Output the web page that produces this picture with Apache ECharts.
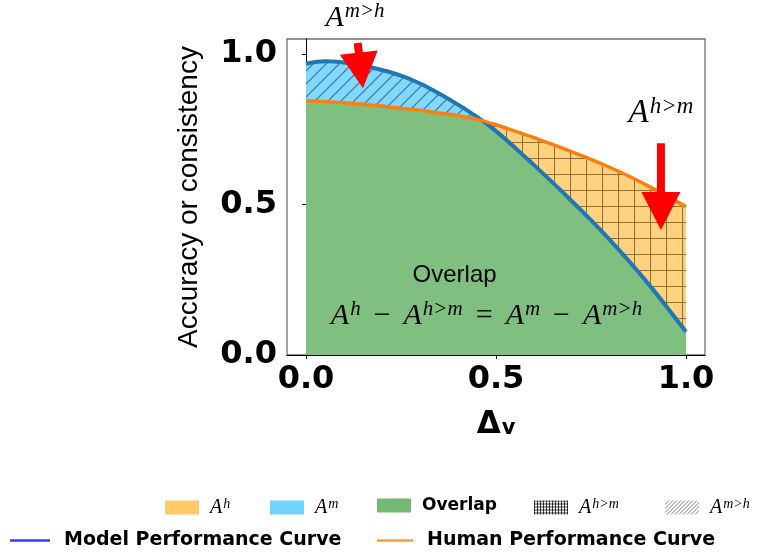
<!DOCTYPE html>
<html>
<head>
<meta charset="utf-8">
<script src="https://cdn.jsdelivr.net/npm/echarts@6/dist/echarts.min.js"></script>
<style>
  html, body { margin: 0; padding: 0; background: #ffffff; }
  #chart { width: 757px; height: 556px; }
</style>
</head>
<body>
<div id="chart"></div>
<script>
// Visual-feature threshold Δv on the x axis
const deltaV = [0.00, 0.05, 0.10, 0.15, 0.20, 0.25, 0.30, 0.35, 0.40, 0.45, 0.50,
                0.55, 0.60, 0.65, 0.70, 0.75, 0.80, 0.85, 0.90, 0.95, 1.00];
// Model accuracy / consistency curve
const modelCurve = [0.968, 0.976, 0.972, 0.962, 0.947, 0.928, 0.902, 0.869, 0.832, 0.791, 0.744,
                    0.689, 0.631, 0.572, 0.511, 0.448, 0.382, 0.312, 0.238, 0.159, 0.077];
// Human accuracy / consistency curve
const humanCurve = [0.845, 0.842, 0.838, 0.833, 0.827, 0.820, 0.813, 0.804, 0.795, 0.783, 0.765,
                    0.744, 0.722, 0.699, 0.675, 0.650, 0.623, 0.594, 0.562, 0.528, 0.493];
// Tick values on both axes
const xTickValues = [0, 0.5, 1.0];
const yTickValues = [0, 0.5, 1.0];

// Point lists built from the curves
const modelLine = deltaV.map((x, i) => [x, modelCurve[i]]);
const humanLine = deltaV.map((x, i) => [x, humanCurve[i]]);
const overlapLine = deltaV.map((x, i) => [x, Math.min(modelCurve[i], humanCurve[i])]);

// Hatch tiles painted on small canvases and used as repeating fills
function hatchTile(size, bg, stroke, lw, kind, ox, oy) {
  const c = document.createElement('canvas');
  c.width = size; c.height = size;
  const g = c.getContext('2d');
  if (bg) { g.fillStyle = bg; g.fillRect(0, 0, size, size); }
  g.strokeStyle = stroke;
  g.lineWidth = lw;
  g.beginPath();
  if (kind === 'grid') {
    g.moveTo(0.5, 0); g.lineTo(0.5, size);
    g.moveTo(0, 0.5); g.lineTo(size, 0.5);
  } else {
    g.moveTo(0, size); g.lineTo(size, 0);
    g.moveTo(-size, size); g.lineTo(size, -size);
    g.moveTo(0, 2 * size); g.lineTo(2 * size, 0);
  }
  g.stroke();
  return { image: c, repeat: 'repeat', x: ox || 0, y: oy || 0 };
}

const gridHatch = hatchTile(16, null, 'rgba(70,45,10,0.6)', 1.1, 'grid', 10, 14);
const diagHatch = hatchTile(13, null, 'rgba(20,40,55,0.6)', 1.1, 'diag');
const gridHatchSmall = hatchTile(3, '#ffffff', 'rgba(0,0,0,0.75)', 1, 'grid');
const diagHatchSmall = hatchTile(4, '#ffffff', 'rgba(0,0,0,0.55)', 0.9, 'diag');

const serif = 'Liberation Serif';
const sans = 'Liberation Sans';
const bold = 'DejaVu Sans';

function mathRich(big, small, lead, gap) {
  const sp = gap === undefined ? big * 0.3 : gap;
  return {
    A: { fontFamily: serif, fontStyle: 'italic', fontSize: big, lineHeight: big * 1.05,
         verticalAlign: 'bottom', color: '#000', padding: [0, 0, 0, lead || 0] },
    B: { fontFamily: serif, fontStyle: 'italic', fontSize: big, lineHeight: big * 1.05,
         verticalAlign: 'bottom', color: '#000' },
    s: { fontFamily: serif, fontStyle: 'italic', fontSize: small, lineHeight: small,
         verticalAlign: 'top', color: '#000', padding: [0, 0, 0, 1] },
    o: { fontFamily: serif, fontSize: big, lineHeight: big * 1.05, verticalAlign: 'bottom',
         color: '#000', padding: [0, sp, 0, sp] },
    b: { fontFamily: bold, fontWeight: 'bold', fontSize: 17, color: '#000', padding: [0, 0, 0, 6] },
    c: { fontFamily: bold, fontWeight: 'bold', fontSize: 19, color: '#000', padding: [0, 0, 0, 9] }
  };
}

const legendText = {
  'A^h': '{A|A}{s|h}',
  'A^m': '{A|A}{s|m}',
  'Overlap': '{b|Overlap}',
  'A^{h>m}': '{A|A}{s|h>m}',
  'A^{m>h}': '{A|A}{s|m>h}',
  'Model Performance Curve': '{c|Model Performance Curve}',
  'Human Performance Curve': '{c|Human Performance Curve}'
};

function legendItem(name, left, top, w, h, itemStyle) {
  return {
    left: left, top: top, orient: 'horizontal', icon: 'rect',
    itemWidth: w, itemHeight: h, padding: 0,
    data: [{ name: name, itemStyle: itemStyle }],
    formatter: n => legendText[n],
    textStyle: { rich: mathRich(20, 14, 6) }
  };
}

const legends = [
  legendItem('A^h', 165, 497, 34, 14, { color: '#ffca6a' }),
  legendItem('A^m', 270, 497, 34, 14, { color: '#6fd5fd' }),
  legendItem('Overlap', 377, 497, 34, 14, { color: '#73b873' }),
  legendItem('A^{h>m}', 534, 497, 34, 14, { color: gridHatchSmall }),
  legendItem('A^{m>h}', 665, 497, 34, 14, { color: diagHatchSmall }),
  legendItem('Model Performance Curve', 10, 531, 40, 2.5, { color: '#3a3aff' }),
  legendItem('Human Performance Curve', 377, 531, 36, 2.5, { color: '#ff9a3c' })
];

const SMOOTH = 0.3;

// Area filled from a curve down to zero; later layers cover earlier ones
function areaLayer(name, data, fill, z) {
  return {
    name: name, type: 'line', data: data, symbol: 'none', silent: true, z: z,
    smooth: SMOOTH, color: typeof fill === 'string' ? fill : '#888',
    lineStyle: { width: 0 },
    areaStyle: { color: fill, opacity: 1 }
  };
}

const chart = echarts.init(document.getElementById('chart'), null, { renderer: 'canvas' });

chart.setOption({
  animation: false,
  backgroundColor: '#ffffff',
  grid: {
    left: 287, right: 52, top: 39, bottom: 201,
    show: true, borderColor: '#6e6e6e', borderWidth: 1.3, backgroundColor: 'transparent'
  },
  legend: legends,
  xAxis: {
    type: 'value', min: -0.05, max: 1.05,
    name: '{d|Δ}{v|v}', nameLocation: 'middle', nameGap: 54,
    nameTextStyle: {
      rich: {
        d: { fontFamily: bold, fontWeight: 'bold', fontSize: 31, lineHeight: 30, verticalAlign: 'top', color: '#000' },
        v: { fontFamily: bold, fontWeight: 'bold', fontSize: 21, lineHeight: 20,
             verticalAlign: 'bottom', padding: [16, 0, 0, 1], color: '#000' }
      }
    },
    splitLine: { show: false },
    axisLine: { show: true, onZero: false, lineStyle: { color: '#000', width: 1 } },
    axisTick: { show: true, length: 4, customValues: xTickValues, lineStyle: { color: '#000' } },
    axisLabel: {
      customValues: xTickValues, margin: 9,
      fontFamily: bold, fontWeight: 'bold', fontSize: 32, color: '#000',
      formatter: v => v.toFixed(1)
    }
  },
  yAxis: {
    type: 'value', min: 0, max: 1.05,
    name: 'Accuracy or consistency', nameLocation: 'middle', nameGap: 84,
    nameTextStyle: { fontFamily: sans, fontSize: 28, color: '#000' },
    splitLine: { show: false },
    axisLine: { show: true, lineStyle: { color: '#000', width: 1 } },
    axisTick: { show: true, length: 4, customValues: yTickValues, lineStyle: { color: '#000' } },
    axisLabel: {
      customValues: yTickValues, margin: 10,
      fontFamily: bold, fontWeight: 'bold', fontSize: 32, color: '#000',
      formatter: v => v.toFixed(1)
    }
  },
  series: [
    // human region with grid hatch, then model region with diagonal hatch, then the overlap on top
    areaLayer('A^h', humanLine, '#ffd27f', 1),
    areaLayer('A^{h>m}', humanLine, gridHatch, 1),
    areaLayer('A^m', modelLine, '#80d8fe', 1),
    areaLayer('A^{m>h}', modelLine, diagHatch, 1),
    areaLayer('Overlap', overlapLine, '#7fbf7f', 1),
    {
      name: 'Model Performance Curve', type: 'line', data: modelLine, symbol: 'none', z: 3,
      smooth: SMOOTH, color: '#1f77b4', lineStyle: { color: '#1f77b4', width: 4 }
    },
    {
      name: 'Human Performance Curve', type: 'line', data: humanLine, symbol: 'none', z: 4,
      smooth: SMOOTH, color: '#ff7f0e', lineStyle: { color: '#ff7f0e', width: 3.5 }
    }
  ]
});

// Annotations anchored in data space
const overlapLabelAt = [0.391, 0.266];
const equationAt = [0.475, 0.133];
const modelOverLabelAt = [0.129, 1.123];
const humanOverLabelAt = [0.934, 0.806];
const modelArrow = { tail: [0.136, 1.037], tip: [0.150, 0.886] };
const humanArrow = { tail: [0.934, 0.704], tip: [0.934, 0.415] };

const px = p => chart.convertToPixel({ xAxisIndex: 0, yAxisIndex: 0 }, p);

function arrowPoints(tailD, tipD, shaftW, headW, headL) {
  const t = px(tailD), h = px(tipD);
  const dx = h[0] - t[0], dy = h[1] - t[1];
  const len = Math.hypot(dx, dy);
  const ux = dx / len, uy = dy / len, nx = -uy, ny = ux;
  const bx = h[0] - ux * headL, by = h[1] - uy * headL;
  return [
    [t[0] + nx * shaftW / 2, t[1] + ny * shaftW / 2],
    [bx + nx * shaftW / 2, by + ny * shaftW / 2],
    [bx + nx * headW / 2, by + ny * headW / 2],
    h,
    [bx - nx * headW / 2, by - ny * headW / 2],
    [bx - nx * shaftW / 2, by - ny * shaftW / 2],
    [t[0] - nx * shaftW / 2, t[1] - ny * shaftW / 2]
  ];
}

function mathLabel(p, text, rich) {
  const q = px(p);
  return {
    type: 'text', x: q[0], y: q[1], z: 100,
    style: { text: text, rich: rich, align: 'center', verticalAlign: 'middle', fill: '#000' }
  };
}

const overlapPx = px(overlapLabelAt);

chart.setOption({
  graphic: [
    {
      type: 'text', x: overlapPx[0], y: overlapPx[1], z: 100,
      style: { text: 'Overlap', align: 'center', verticalAlign: 'middle', fill: '#000',
               font: '24px "Liberation Sans"' }
    },
    mathLabel(equationAt, '{A|A}{s|h}{o|−}{B|A}{s|h>m}{o|=}{B|A}{s|m}{o|−}{B|A}{s|m>h}', mathRich(30, 21, 0, 13)),
    mathLabel(modelOverLabelAt, '{A|A}{s|m>h}', mathRich(30, 21)),
    mathLabel(humanOverLabelAt, '{A|A}{s|h>m}', mathRich(33, 23)),
    { type: 'polygon', z: 101, shape: { points: arrowPoints(modelArrow.tail, modelArrow.tip, 8, 38, 36) },
      style: { fill: '#ff0000' } },
    { type: 'polygon', z: 101, shape: { points: arrowPoints(humanArrow.tail, humanArrow.tip, 8, 39, 38) },
      style: { fill: '#ff0000' } }
  ]
});
</script>
</body>
</html>
